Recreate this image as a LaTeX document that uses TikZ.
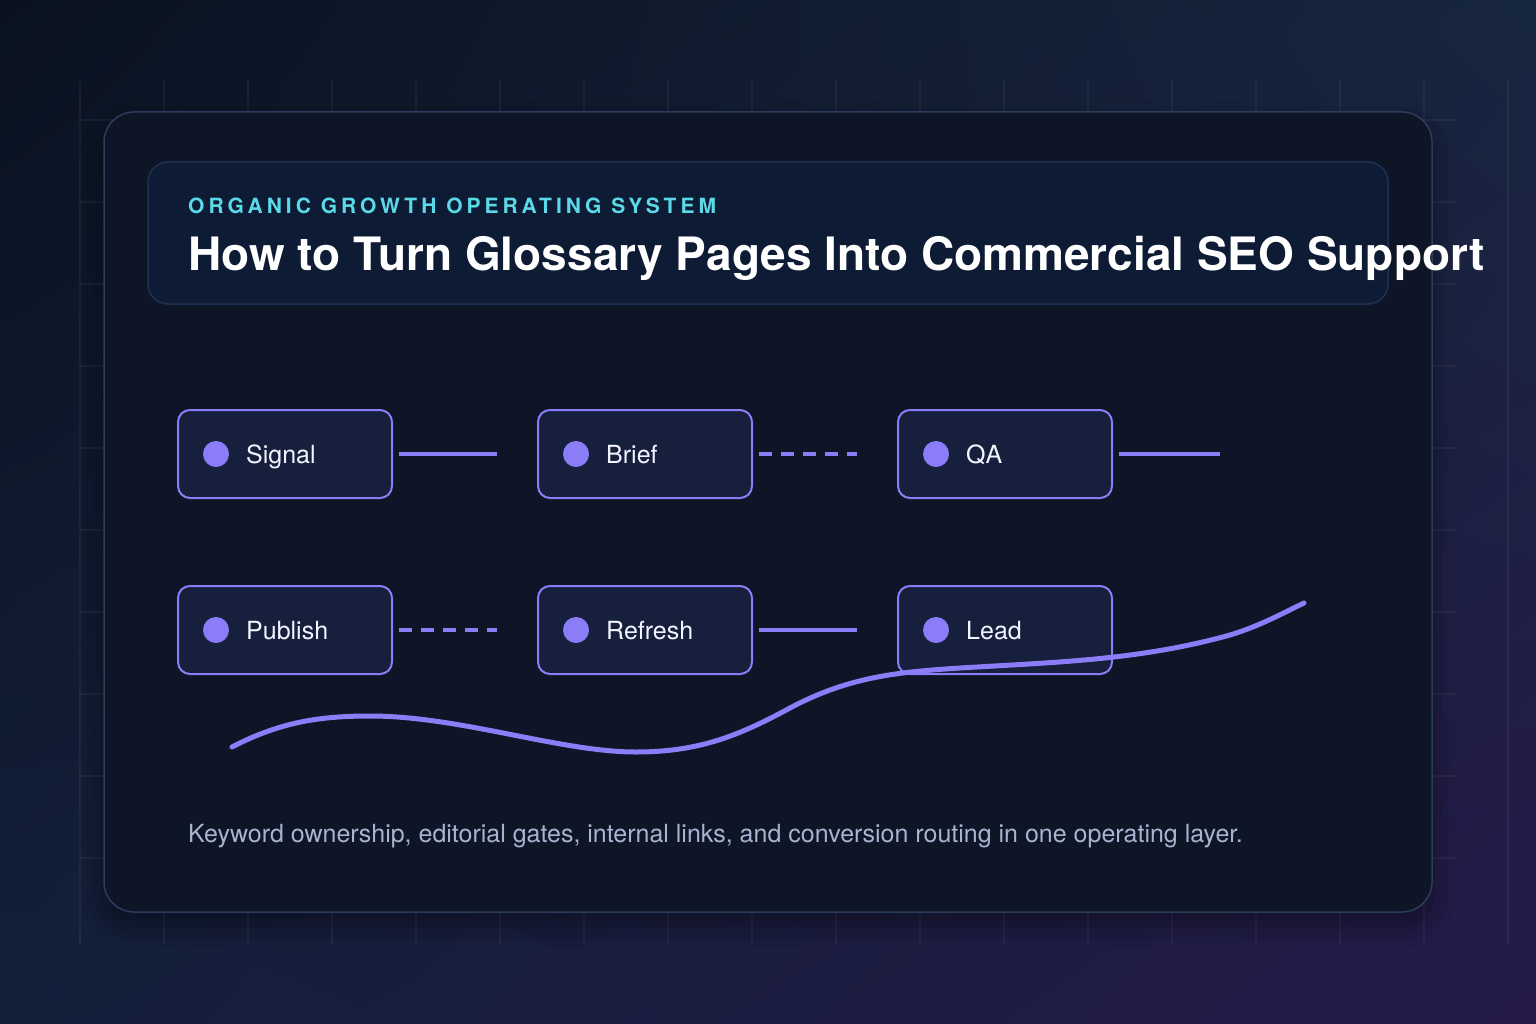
\documentclass[tikz,border=0pt]{standalone}
\usepackage{fontspec}
\setmainfont{TeX Gyre Heros}
\usetikzlibrary{shadows.blur,calc,shadings}
\definecolor{bgTL}{HTML}{0A1220}
\definecolor{bgTR}{HTML}{17263F}
\definecolor{bgBL}{HTML}{13203A}
\definecolor{bgBR}{HTML}{251A4A}
\definecolor{cardfill}{HTML}{0E1526}
\definecolor{cardline}{HTML}{2C3C5C}
\definecolor{headfill}{HTML}{0D1B34}
\definecolor{headline}{HTML}{1F3152}
\definecolor{nodefill}{HTML}{161F3C}
\definecolor{violet}{HTML}{8B7CF8}
\definecolor{cyantext}{HTML}{5CD9E8}
\definecolor{foottext}{HTML}{A8B3D0}
\definecolor{nodetext}{HTML}{F2F5FF}
\begin{document}
\begin{tikzpicture}[x=1pt,y=-1pt,
  gridline/.style={draw=white,opacity=0.05,line width=1.5pt},
  card/.style={draw=cardline,fill=cardfill,line width=1.5pt,rounded corners=30pt},
  headbox/.style={draw=headline,fill=headfill,line width=1.5pt,rounded corners=20pt},
  stepbox/.style={draw=violet,fill=nodefill,line width=2pt,rounded corners=12pt,minimum width=214pt,minimum height=88pt,inner sep=0pt},
  dotmark/.style={circle,fill=violet,minimum size=26pt,inner sep=0pt},
  steplabel/.style={anchor=base west,inner sep=0pt,text=nodetext,font=\fontsize{25}{29}\selectfont},
  link/.style={draw=violet,line width=4pt,shorten <=6pt,shorten >=40pt},
  dashlink/.style={link,dash pattern=on 13pt off 9pt},
  wave/.style={draw=violet,line width=5pt,line cap=round}
]
\useasboundingbox (0,0) rectangle (1536,1024);
\shade[upper left=bgTL,upper right=bgTR,lower left=bgBL,lower right=bgBR] (0,0) rectangle (1536,1024);
% grid
\foreach \i in {0,...,17} \draw[gridline] (80+84*\i,80) -- (80+84*\i,944);
\foreach \j in {0,...,9} \draw[gridline] (80,120+82*\j) -- (1456,120+82*\j);
% card
\path[card,blur shadow={shadow xshift=0pt,shadow yshift=-12pt,shadow blur radius=24pt,shadow opacity=45}] (104,112) rectangle (1432,912);
% header
\path[headbox] (148,162) rectangle (1388,304);
\node[anchor=base west,inner sep=0pt,text=cyantext,font=\bfseries\addfontfeature{LetterSpace=19}\fontsize{21}{25}\selectfont] (kicker) at (188,214) {ORGANIC GROWTH OPERATING SYSTEM};
\node[anchor=base west,inner sep=0pt,text=white,font=\bfseries\fontsize{46}{54}\selectfont] (title) at (188,270.5) {How to Turn Glossary Pages Into Commercial SEO Support};
% steps
\foreach \n/\x/\y/\t in {sig/285/454/Signal,bri/645/454/Brief,qa/1005/454/QA,pub/285/630/Publish,ref/645/630/Refresh,lead/1005/630/Lead}{
  \node[stepbox] (\n) at (\x,\y) {};
  \node[dotmark] (\n dot) at (\x-69,\y) {};
  \node[steplabel] (\n txt) at (\x-39,\y+9.5) {\t};
}
\coordinate (qaend) at (1260,454);
\draw[link] (sig.east) -- (bri.west);
\draw[dashlink] (bri.east) -- (qa.west);
\draw[link] (qa.east) -- (qaend);
\draw[dashlink] (pub.east) -- (ref.west);
\draw[link] (ref.east) -- (lead.west);
% wave
\coordinate (w0) at (232,747);
\coordinate (w1) at (1304,603);
\draw[wave] (w0) .. controls (280,722) and (320,716) .. (370,716)
  .. controls (460,716) and (560,752) .. (636,752)
  .. controls (700,752) and (740,735) .. (790,708)
  .. controls (850,676) and (900,672) .. (960,668)
  .. controls (1060,662) and (1140,660) .. (1230,635)
  .. controls (1260,626) and (1285,612) .. (w1);
% footer
\node[anchor=base west,inner sep=0pt,text=foottext,font=\fontsize{25}{30}\selectfont] (foot) at (188,842) {Keyword ownership, editorial gates, internal links, and conversion routing in one operating layer.};
\end{tikzpicture}
\end{document}
